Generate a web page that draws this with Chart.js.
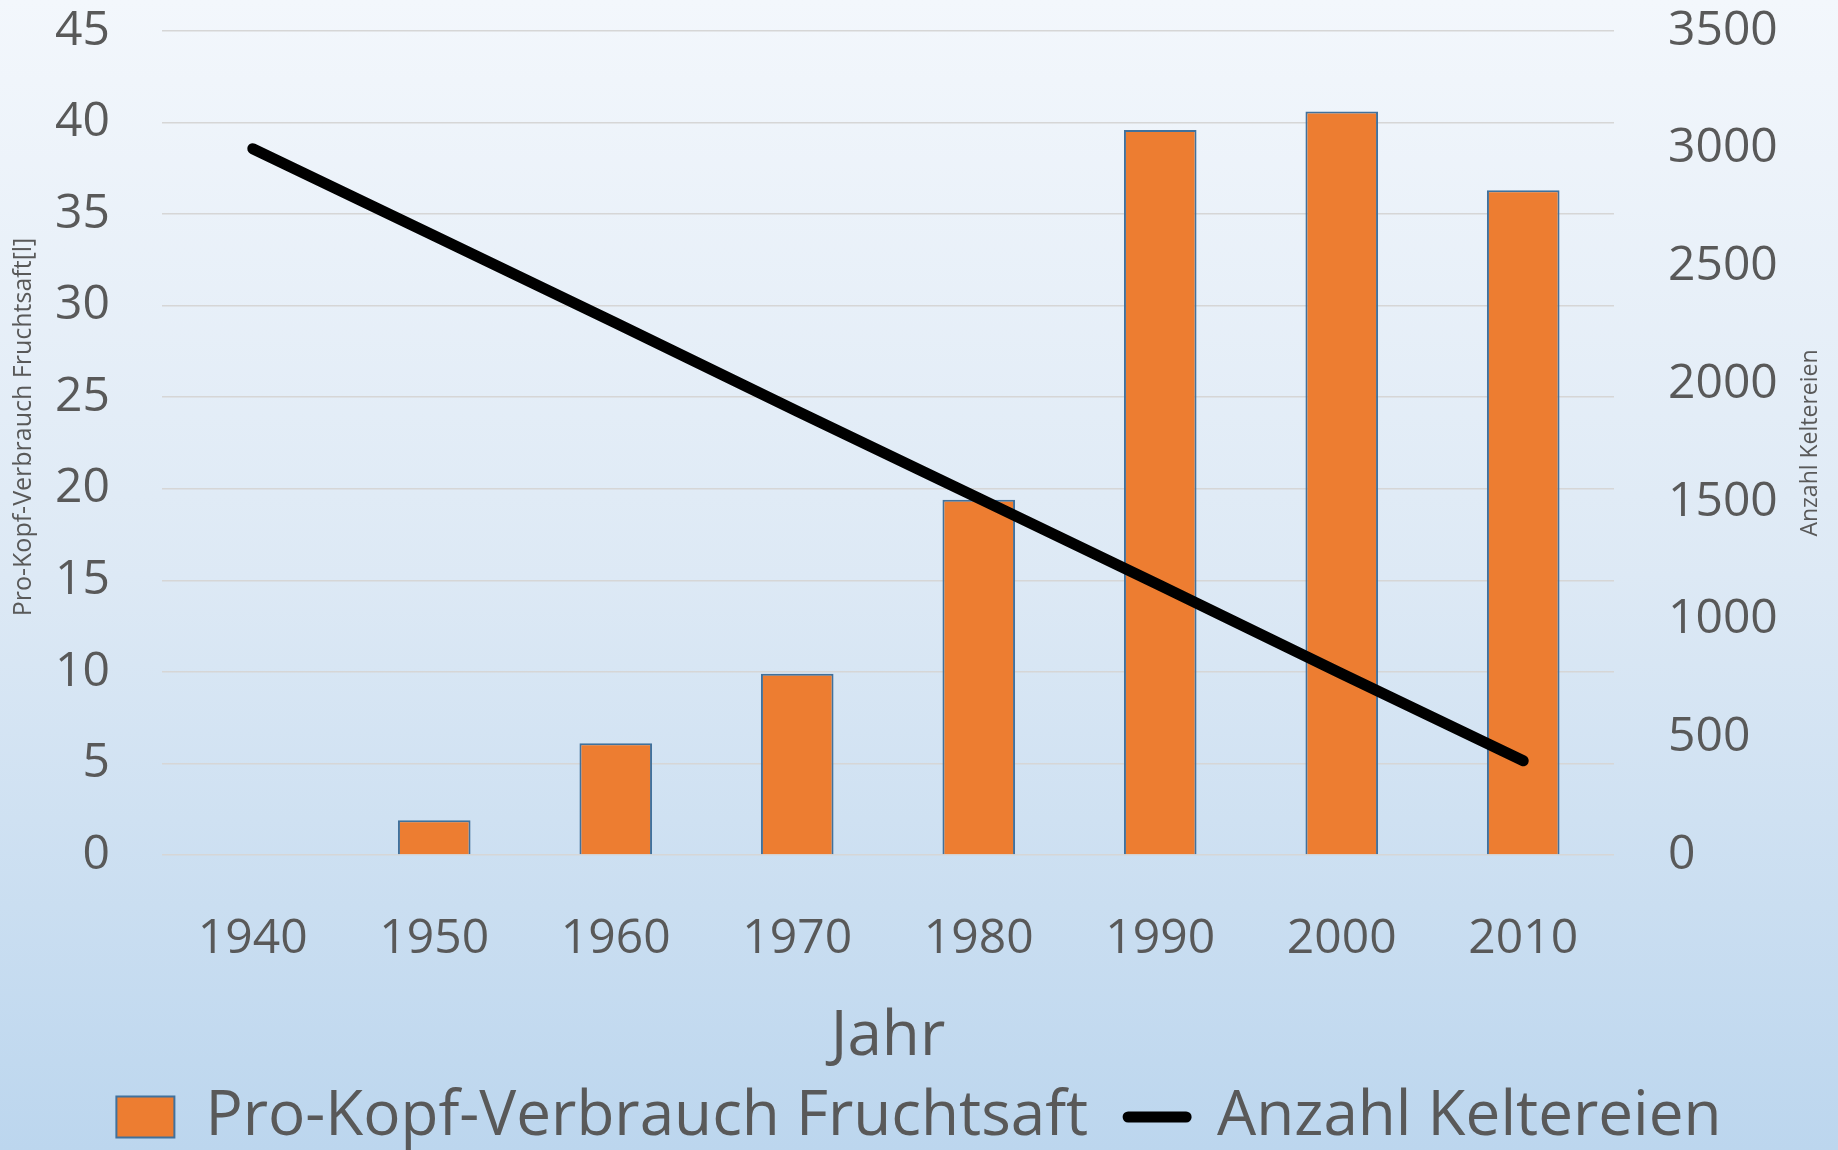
<!DOCTYPE html>
<html><head><meta charset="utf-8">
<script src="https://cdn.jsdelivr.net/npm/chart.js@4/dist/chart.umd.min.js"></script>
<style>
html,body{margin:0;padding:0;}
body{width:1838px;height:1150px;overflow:hidden;background:linear-gradient(to bottom,#F3F7FC 0%,#DDE9F5 50%,#BCD6EE 100%);}
#wrap{position:relative;width:1838px;height:1150px;}
</style></head>
<body><div id="wrap"><canvas id="c" width="1838" height="1150"></canvas></div>
<script>
// ---- data ----
const years = ['1940','1950','1960','1970','1980','1990','2000','2010'];
const consumption = [null, 1.9, 6.1, 9.9, 19.4, 39.6, 40.6, 36.3];
const presses = [3000, 2630, 2260, 1885, 1515, 1145, 770, 400];
const leftTicks = [0,5,10,15,20,25,30,35,40,45];
const rightTicks = [0,500,1000,1500,2000,2500,3000,3500];
const consumptionLabel = 'Pro-Kopf-Verbrauch Fruchtsaft';
const pressesLabel = 'Anzahl Keltereien';
const xTitle = 'Jahr';
const leftTitle = 'Pro-Kopf-Verbrauch Fruchtsaft[l]';
const rightTitle = 'Anzahl Keltereien';

const textColor = '#595959';
const FONT = '"Open Sans"';
const clear = 'rgba(0,0,0,0)';

const axisTitlesPlugin = {
  id: 'axisTitles',
  afterDraw(chart) {
    const {ctx, chartArea} = chart;
    const midY = (chartArea.top + chartArea.bottom) / 2;
    ctx.save();
    ctx.fillStyle = textColor;
    ctx.textAlign = 'center';
    ctx.textBaseline = 'middle';
    // left title
    ctx.save();
    ctx.translate(chart.scales.y.left + 24, midY - 16);
    ctx.rotate(-Math.PI / 2);
    ctx.font = '25px ' + FONT;
    ctx.fillText(leftTitle, 0, 0);
    ctx.restore();
    // right title
    ctx.save();
    ctx.translate(chart.scales.y1.right - 28, midY);
    ctx.rotate(-Math.PI / 2);
    ctx.font = '23px ' + FONT;
    ctx.fillText(rightTitle, 0, 0);
    ctx.restore();
    ctx.restore();
  }
};

new Chart(document.getElementById('c'), {
  data: {
    labels: years,
    datasets: [
      {
        type: 'bar',
        label: consumptionLabel,
        data: consumption,
        yAxisID: 'y',
        backgroundColor: '#ED7D31',
        borderColor: '#41719C',
        borderWidth: 2,
        barPercentage: 0.4,
        categoryPercentage: 1.0,
        order: 1
      },
      {
        type: 'line',
        label: pressesLabel,
        data: presses,
        yAxisID: 'y1',
        borderColor: '#000000',
        borderWidth: 11,
        borderCapStyle: 'round',
        borderJoinStyle: 'round',
        tension: 0,
        pointRadius: 0,
        fill: false,
        order: 0
      }
    ]
  },
  options: {
    responsive: false,
    devicePixelRatio: 1,
    animation: false,
    layout: { padding: { left: 0, right: 0, top: 31, bottom: -8 } },
    plugins: {
      tooltip: { enabled: false },
      legend: {
        position: 'bottom',
        labels: {
          usePointStyle: true,
          pointStyleWidth: 58,
          boxHeight: 41,
          padding: 40,
          color: textColor,
          font: { family: 'Open Sans', size: 62 },
          generateLabels: () => [
            { text: consumptionLabel, fillStyle: '#ED7D31', strokeStyle: '#41719C', lineWidth: 2,
              pointStyle: 'rect', datasetIndex: 0, fontColor: textColor, hidden: false },
            { text: pressesLabel, fillStyle: '#000000', strokeStyle: '#000000', lineWidth: 11,
              lineCap: 'round', pointStyle: 'line', datasetIndex: 1, fontColor: textColor, hidden: false }
          ]
        }
      }
    },
    scales: {
      x: {
        grid: { display: true, drawOnChartArea: false, drawTicks: true, tickLength: 56, tickColor: clear },
        border: { display: false },
        ticks: { color: textColor, font: { family: 'Open Sans', size: 48 }, padding: 0, maxRotation: 0 },
        title: { display: true, text: xTitle, color: textColor, font: { family: 'Open Sans', size: 62 }, padding: { top: 0, bottom: -29 } },
        afterFit(s) { s.height = 191; }
      },
      y: {
        position: 'left',
        min: 0, max: 45,
        afterBuildTicks(s) { s.ticks = leftTicks.map(v => ({ value: v })); },
        grid: { color: '#D6D6D6', lineWidth: 1.5, drawTicks: true, tickLength: 52, tickColor: clear },
        border: { display: false },
        ticks: { color: textColor, font: { family: 'Open Sans', size: 48 }, padding: 0, callback: v => String(v) },
        afterFit(s) { s.width = 162; }
      },
      y1: {
        position: 'right',
        min: 0, max: 3500,
        afterBuildTicks(s) { s.ticks = rightTicks.map(v => ({ value: v })); },
        grid: { display: true, drawOnChartArea: false, drawTicks: true, tickLength: 54, tickColor: clear },
        border: { display: false },
        ticks: { color: textColor, font: { family: 'Open Sans', size: 48 }, padding: 0, callback: v => String(v) },
        afterFit(s) { s.width = 224; }
      }
    }
  },
  plugins: [axisTitlesPlugin]
});
</script>
</body></html>
